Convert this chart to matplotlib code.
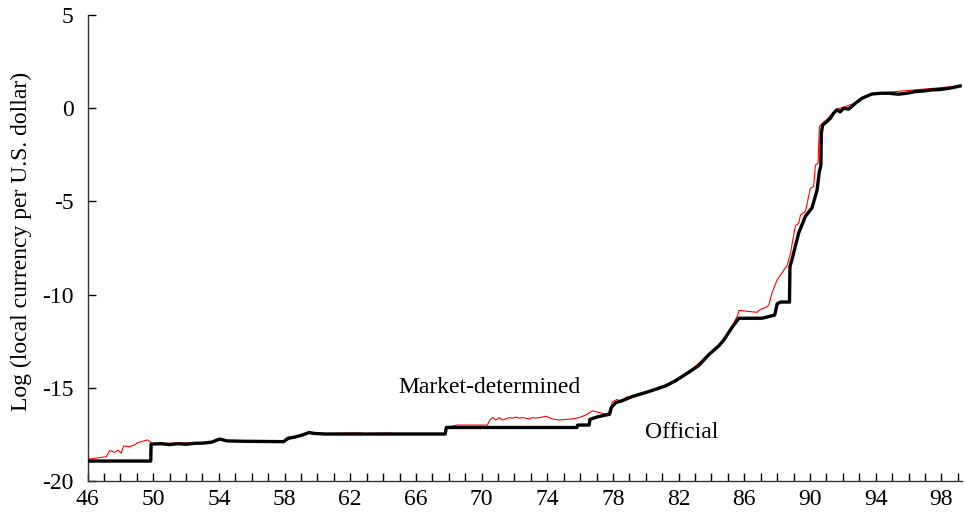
import numpy as np
import matplotlib
matplotlib.use("Agg")
import matplotlib.pyplot as plt

plt.rcParams['font.family'] = ['Liberation Serif', 'DejaVu Serif']

# Official exchange rate (log local currency per U.S. dollar)
off_year = [46.0, 49.85, 49.87, 50.5, 51.0, 51.5, 52.0, 52.5, 53.0, 53.55, 54.05, 54.5,
            55.5, 57.95, 58.2, 58.6, 59.1, 59.5, 59.8, 60.5, 67.78, 67.85, 68.3, 75.8,
            75.85, 76.55, 76.6, 77.1, 77.8, 77.9, 78.17, 78.6, 79.18, 80.19, 81.2, 81.82,
            82.63, 83.23, 83.84, 84.45, 84.75, 85.26, 85.67, 87.08, 87.4, 87.85, 88.0,
            88.2, 88.75, 88.78, 88.91, 89.11, 89.31, 89.72, 90.12, 90.43, 90.57, 90.66,
            90.69, 90.77, 91.03, 91.24, 91.44, 91.64, 91.84, 92.05, 92.35, 92.76, 93.16,
            93.77, 94.3, 94.78, 95.39, 95.9, 96.41, 96.9, 97.42, 97.9, 98.43, 99.14]
off_val = [-18.93, -18.93, -18.02, -18.0, -18.05, -18.0, -18.03, -17.98, -17.97, -17.92,
           -17.75, -17.85, -17.87, -17.89, -17.71, -17.65, -17.53, -17.4, -17.45, -17.48,
           -17.48, -17.13, -17.13, -17.13, -17.0, -17.0, -16.69, -16.55, -16.42, -16.05,
           -15.8, -15.68, -15.47, -15.2, -14.9, -14.62, -14.16, -13.8, -13.22, -12.75,
           -12.44, -11.75, -11.27, -11.27, -11.2, -11.1, -10.5, -10.4, -10.4, -8.5,
           -8.1, -7.4, -6.7, -5.8, -5.35, -4.4, -3.4, -3.1, -1.35, -0.9, -0.72, -0.54,
           -0.27, -0.09, -0.2, 0.0, -0.05, 0.26, 0.53, 0.76, 0.8, 0.8, 0.75, 0.8, 0.89,
           0.92, 0.98, 1.0, 1.06, 1.19]

# Market-determined (parallel) rate
mkt_year = [46.0, 47.14, 47.35, 47.65, 47.85, 48.05, 48.2, 48.55, 48.85, 49.05, 49.35,
            49.65, 49.8, 49.87, 53.55, 54.05, 54.5, 57.95, 58.6, 59.5, 60.5, 62.6, 62.8,
            64.5, 64.7, 67.78, 67.85, 68.5, 70.35, 70.5, 70.67, 70.87, 71.07, 71.27,
            71.48, 71.68, 71.88, 72.09, 72.29, 72.49, 72.7, 72.9, 73.1, 73.3, 73.51,
            73.71, 73.91, 74.12, 74.32, 74.52, 74.72, 75.13, 75.53, 75.94, 76.35, 76.75,
            76.95, 77.35, 77.66, 77.9, 77.96, 78.27, 78.47, 78.78, 79.18, 80.19, 81.2,
            82.63, 83.84, 84.75, 85.26, 85.6, 85.67, 86.2, 86.78, 86.88, 87.39, 87.49,
            87.69, 87.99, 88.2, 88.6, 88.81, 89.11, 89.31, 89.42, 89.72, 90.02, 90.22,
            90.33, 90.49, 90.57, 90.77, 91.03, 91.44, 91.64, 92.05, 92.76, 93.77, 99.14]
mkt_val = [-18.84, -18.7, -18.37, -18.46, -18.35, -18.5, -18.12, -18.16, -18.07, -17.95,
           -17.87, -17.8, -17.87, -18.0, -17.92, -17.75, -17.85, -17.89, -17.65, -17.4,
           -17.46, -17.42, -17.46, -17.43, -17.47, -17.47, -17.12, -17.0, -17.0, -16.73,
           -16.6, -16.73, -16.6, -16.73, -16.67, -16.6, -16.63, -16.57, -16.63, -16.6,
           -16.63, -16.67, -16.6, -16.63, -16.6, -16.57, -16.53, -16.6, -16.67, -16.7,
           -16.73, -16.7, -16.67, -16.6, -16.46, -16.24, -16.28, -16.37, -16.42, -16.05,
           -15.75, -15.62, -15.8, -15.51, -15.45, -15.18, -14.88, -14.14, -13.2, -12.42,
           -11.7, -11.1, -10.85, -10.9, -10.95, -10.85, -10.65, -10.56, -9.9, -9.22,
           -8.95, -8.45, -7.78, -6.3, -6.18, -5.73, -5.55, -4.3, -4.21, -3.05, -2.96,
           -1.0, -0.8, -0.6, -0.2, -0.05, 0.05, 0.28, 0.78, 1.19]

fig = plt.figure(figsize=(9.64, 5.31), dpi=100)
ax = fig.add_axes([0.0908, 0.0942, 0.907, 0.8776])

ax.plot(mkt_year, mkt_val, color='red', linewidth=0.8, zorder=2)
ax.plot(off_year, off_val, color='black', linewidth=2.4, zorder=3)

ax.set_xlim(46, 99.25)
ax.set_ylim(-20, 5)

years = np.arange(46, 100)
ax.set_xticks(years)
ax.set_xticklabels([str(y) if (y - 46) % 4 == 0 else '' for y in years])
ax.set_yticks([-20, -15, -10, -5, 0, 5])
ax.set_yticklabels(['-20', '-15', '-10', '-5', '0', '5'])
ax.tick_params(axis='both', direction='in', length=6, width=1, labelsize=17, colors='black')
ax.tick_params(axis='x', pad=6)
ax.tick_params(axis='y', pad=10)

for s in ['top', 'right']:
    ax.spines[s].set_visible(False)
for s in ['left', 'bottom']:
    ax.spines[s].set_linewidth(1)
    ax.spines[s].set_color('#333333')

ax.set_ylabel('Log (local currency per U.S. dollar)', fontsize=17)
ax.yaxis.set_label_coords(-0.063, 0.515)

ax.text(70.5, -15.0, 'Market-determined', fontsize=17, ha='center', va='center')
ax.text(82.2, -17.4, 'Official', fontsize=17, ha='center', va='center')

fig.savefig('out.png', dpi=100)
